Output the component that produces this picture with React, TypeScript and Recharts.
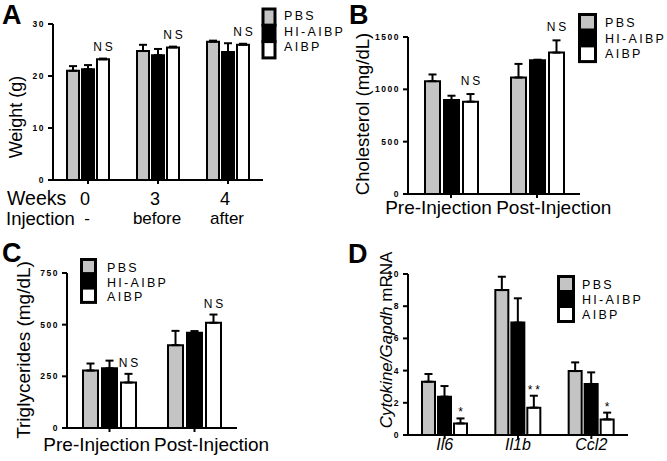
import React from 'react';
import { BarChart, Bar, XAxis, YAxis, ErrorBar, LabelList } from 'recharts';

const FONT = '"Liberation Sans", Arial, Helvetica, sans-serif';
const GRAY = '#c4c4c4';

// treatment groups (legend order)
const groups = ['PBS', 'HI-AIBP', 'AIBP'];
const groupFills = [GRAY, '#000000', '#ffffff'];

// A - body weight (g)
const weekLabels = ['0', '3', '4'];
const injectionLabels = ['-', 'before', 'after'];
const weightPBS = [21.0, 24.8, 26.6];
const weightPBSErr = [0.9, 1.2, 0.2];
const weightHI = [21.3, 24.0, 24.6];
const weightHIErr = [0.8, 1.2, 1.7];
const weightAIBP = [23.2, 25.5, 26.0];
const weightAIBPErr = [0.15, 0.15, 0.2];
const weightSig = ['NS', 'NS', 'NS'];

// B - cholesterol (mg/dL)
const injectionCats = ['Pre-Injection', 'Post-Injection'];
const cholPBS = [1078, 1113];
const cholPBSErr = [64, 130];
const cholHI = [898, 1278];
const cholHIErr = [41, 5];
const cholAIBP = [882, 1351];
const cholAIBPErr = [73, 117];
const cholSig = ['NS', 'NS'];

// C - triglycerides (mg/dL)
const tgPBS = [278, 401];
const tgPBSErr = [34, 69];
const tgHI = [289, 461];
const tgHIErr = [37, 8];
const tgAIBP = [220, 509];
const tgAIBPErr = [42, 40];
const tgSig = ['NS', 'NS'];

// D - cytokine / Gapdh mRNA
const cytokines = ['Il6', 'Il1b', 'Ccl2'];
const cytPBS = [3.31, 9.0, 3.97];
const cytPBSErr = [0.48, 0.83, 0.54];
const cytHI = [2.38, 6.98, 3.17];
const cytHIErr = [0.66, 1.51, 0.72];
const cytAIBP = [0.72, 1.7, 0.97];
const cytAIBPErr = [0.31, 0.74, 0.42];
const cytSig = ['*', '**', '*'];

const buildRows = (cats, pbs, pbsE, hi, hiE, aibp, aibpE, sig) =>
  cats.map((c, i) => ({
    cat: c,
    pbs: pbs[i],
    pbsE: [0, pbsE[i]],
    hi: hi[i],
    hiE: [0, hiE[i]],
    aibp: aibp[i],
    aibpE: [0, aibpE[i]],
    aibpUp: aibpE[i],
    sig: sig[i],
  }));

const rowsA = buildRows(weekLabels, weightPBS, weightPBSErr, weightHI, weightHIErr, weightAIBP, weightAIBPErr, weightSig);
const rowsB = buildRows(injectionCats, cholPBS, cholPBSErr, cholHI, cholHIErr, cholAIBP, cholAIBPErr, cholSig);
const rowsC = buildRows(injectionCats, tgPBS, tgPBSErr, tgHI, tgHIErr, tgAIBP, tgAIBPErr, tgSig);
const rowsD = buildRows(cytokines, cytPBS, cytPBSErr, cytHI, cytHIErr, cytAIBP, cytAIBPErr, cytSig);

const yTickStyle = { fontSize: 8.5, fontWeight: 700, fill: '#000', fontFamily: FONT, letterSpacing: 1.5 };

// significance text above the AIBP error bar
const sigLabel = (rows, gap, fontSize) => (p: any) => {
  const vb = p.viewBox || p;
  const row = rows[p.index];
  if (!row || !row.sig) return null;
  const errPx = (row.aibpUp * vb.height) / row.aibp;
  return (
    <text
      x={vb.x + vb.width / 2 + 1.5}
      y={vb.y - errPx - gap}
      textAnchor="middle"
      fontSize={fontSize}
      fontFamily={FONT}
      letterSpacing={3}
      fill="#000"
    >
      {row.sig}
    </text>
  );
};

const weekTick = (p: any) => {
  const i = weekLabels.indexOf(p.payload.value);
  return (
    <g fontFamily={FONT} fill="#000" textAnchor="middle">
      <text x={p.x - 3} y={p.y + 19} fontSize={18}>{weekLabels[i]}</text>
      <text x={p.x - 1} y={p.y + 38} fontSize={17}>{injectionLabels[i]}</text>
    </g>
  );
};

const makeInjTick = (half, dy) => (p: any) => {
  const first = injectionCats.indexOf(p.payload.value) === 0;
  return (
    <text
      x={first ? p.x + half - 2 : p.x - half + 2}
      y={p.y + dy}
      textAnchor={first ? 'end' : 'start'}
      fontSize={19}
      fontFamily={FONT}
      fill="#000"
    >
      {p.payload.value}
    </text>
  );
};

const geneTick = (p: any) => (
  <text x={p.x} y={p.y + 9} textAnchor="middle" fontSize={16} fontStyle="italic" fontFamily={FONT} fill="#000">
    {p.payload.value}
  </text>
);

function Panel({ rows, left, top, width, height, margin, domain, ticks, xHeight, barSize, barGap, xTick, sigGap, sigSize }) {
  return (
    <div style={{ position: 'absolute', left, top, width, height }}>
      <BarChart width={width} height={height} data={rows} margin={margin} barSize={barSize} barGap={barGap}>
        <XAxis
          dataKey="cat"
          interval={0}
          height={xHeight}
          axisLine={{ stroke: '#000', strokeWidth: 2 }}
          tickLine={{ stroke: '#000', strokeWidth: 2 }}
          tickSize={4}
          tickMargin={2}
          tick={xTick}
        />
        <YAxis
          width={40}
          domain={domain}
          ticks={ticks}
          interval={0}
          allowDataOverflow
          axisLine={{ stroke: '#000', strokeWidth: 2 }}
          tickLine={{ stroke: '#000', strokeWidth: 2 }}
          tickSize={5}
          tickMargin={3}
          tick={yTickStyle}
        />
        <Bar dataKey="pbs" fill={groupFills[0]} stroke="#000" strokeWidth={2} isAnimationActive={false}>
          <ErrorBar dataKey="pbsE" direction="y" width={4} stroke="#000" strokeWidth={2} />
        </Bar>
        <Bar dataKey="hi" fill={groupFills[1]} stroke="#000" strokeWidth={2} isAnimationActive={false}>
          <ErrorBar dataKey="hiE" direction="y" width={4} stroke="#000" strokeWidth={2} />
        </Bar>
        <Bar dataKey="aibp" fill={groupFills[2]} stroke="#000" strokeWidth={2} isAnimationActive={false}>
          <ErrorBar dataKey="aibpE" direction="y" width={4} stroke="#000" strokeWidth={2} />
          <LabelList dataKey="sig" content={sigLabel(rows, sigGap, sigSize)} />
        </Bar>
      </BarChart>
    </div>
  );
}

function LegendBox({ x, y, w, h, textX, baselines }) {
  return (
    <g>
      {groups.map((g, i) => (
        <rect key={g} x={x} y={y + i * h} width={w} height={h} fill={groupFills[i]} stroke="#000" strokeWidth={3} />
      ))}
      {groups.map((g, i) => (
        <text key={g + 't'} x={textX} y={baselines[i]} fontSize={12.5} letterSpacing={2.3} fontFamily={FONT} fill="#000">
          {g}
        </text>
      ))}
    </g>
  );
}

const letterStyle = { fontSize: 27, fontWeight: 700, fontFamily: FONT, fill: '#000' };

export default function App() {
  return (
    <div style={{ position: 'absolute', left: 0, top: 0, width: 667, height: 461, background: '#fff', overflow: 'hidden' }}>
      <Panel
        rows={rowsA}
        left={0}
        top={0}
        width={333}
        height={230}
        margin={{ top: 24, right: 70, bottom: 4, left: 13 }}
        domain={[0, 30]}
        ticks={[0, 10, 20, 30]}
        xHeight={46}
        barSize={12}
        barGap={3}
        xTick={weekTick}
        sigGap={8}
        sigSize={12}
      />
      <Panel
        rows={rowsB}
        left={333}
        top={0}
        width={334}
        height={230}
        margin={{ top: 37, right: 87, bottom: 4, left: 35 }}
        domain={[0, 1500]}
        ticks={[0, 500, 1000, 1500]}
        xHeight={32}
        barSize={15}
        barGap={4}
        xTick={makeInjTick(42.8, 14)}
        sigGap={9}
        sigSize={12}
      />
      <Panel
        rows={rowsC}
        left={0}
        top={230}
        width={333}
        height={231}
        margin={{ top: 43, right: 96, bottom: 4, left: 27 }}
        domain={[0, 750]}
        ticks={[0, 250, 500, 750]}
        xHeight={29}
        barSize={15}
        barGap={4}
        xTick={makeInjTick(42.5, 17)}
        sigGap={7}
        sigSize={12}
      />
      <Panel
        rows={rowsD}
        left={333}
        top={230}
        width={334}
        height={231}
        margin={{ top: 44, right: 39, bottom: 4, left: 35 }}
        domain={[0, 10]}
        ticks={[0, 2, 4, 6, 8, 10]}
        xHeight={22}
        barSize={13}
        barGap={3}
        xTick={geneTick}
        sigGap={2}
        sigSize={12}
      />
      <svg width={667} height={461} style={{ position: 'absolute', left: 0, top: 0, pointerEvents: 'none' }}>
        <text x={2} y={24} {...letterStyle}>A</text>
        <text x={349} y={24} {...letterStyle}>B</text>
        <text x={2} y={262} {...letterStyle}>C</text>
        <text x={348} y={263} {...letterStyle}>D</text>

        <g fontFamily={FONT} fill="#000" textAnchor="middle">
          <text x={22} y={117} fontSize={18} transform="rotate(-90 22 117)">Weight (g)</text>
          <text x={369} y={114} fontSize={18.5} transform="rotate(-90 369 114)">Cholesterol (mg/dL)</text>
          <text x={30} y={350} fontSize={19} transform="rotate(-90 30 350)">Triglycerides (mg/dL)</text>
          <text x={392} y={340} fontSize={17} transform="rotate(-90 392 340)">
            <tspan fontStyle="italic">Cytokine/Gapdh</tspan> mRNA
          </text>
        </g>

        <g fontFamily={FONT} fill="#000">
          <text x={7} y={205} fontSize={19.5}>Weeks</text>
          <text x={6} y={225} fontSize={18.5}>Injection</text>
        </g>

        <LegendBox x={263} y={9} w={12} h={16.3} textX={284} baselines={[20, 35.5, 51]} />
        <LegendBox x={579.5} y={14.5} w={16} h={15.7} textX={605} baselines={[26.5, 42.5, 57.5]} />
        <LegendBox x={81.5} y={259.5} w={14} h={14.3} textX={107} baselines={[271.5, 286.5, 301]} />
        <LegendBox x={558.5} y={276.5} w={15} h={15} textX={582} baselines={[288.5, 304, 318.5]} />
      </svg>
    </div>
  );
}
